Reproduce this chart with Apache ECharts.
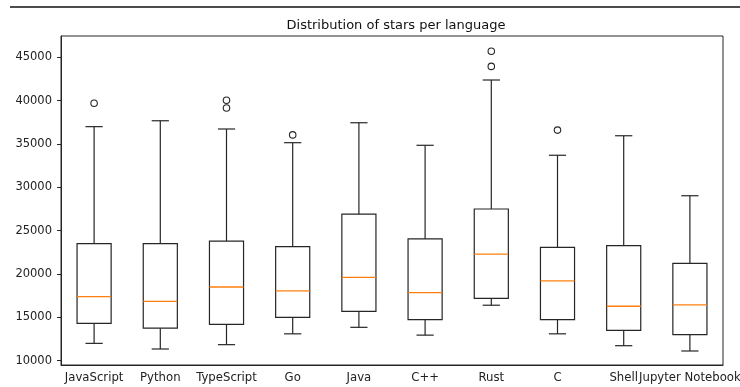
<!DOCTYPE html>
<html>
<head>
<meta charset="utf-8">
<script src="https://cdn.jsdelivr.net/npm/echarts@6/dist/echarts.min.js"></script>
<style>html,body{margin:0;padding:0;background:#fff;}#c{width:740px;height:387px;}</style>
</head>
<body>
<div id="c"></div>
<script>
var categories = ['JavaScript','Python','TypeScript','Go','Java','C++','Rust','C','Shell','Jupyter Notebook'];
var lowerWhisker = [12000, 11350, 11850, 13100, 13850, 12950, 16400, 13100, 11730, 11120];
var q1          = [14300, 13750, 14200, 15000, 15700, 14730, 17200, 14730, 13500, 13000];
var median      = [17400, 16850, 18500, 18050, 19620, 17850, 22300, 19200, 16280, 16450];
var q3          = [23500, 23500, 23800, 23150, 26900, 24050, 27500, 23080, 23270, 21230];
var upperWhisker= [37000, 37680, 36730, 35150, 37450, 34850, 42380, 33700, 35950, 29030];
var outliers = [[0, 39700], [2, 40050], [2, 39150], [3, 36050], [6, 45700], [6, 43950], [7, 36600]];
var yTicks = [10000, 15000, 20000, 25000, 30000, 35000, 40000, 45000];
var title = 'Distribution of stars per language';

var boxData = categories.map(function (c, i) {
  return [i, lowerWhisker[i], q1[i], median[i], q3[i], upperWhisker[i]];
});

var FONT = '"DejaVu Sans", sans-serif';
var INK = '#262626';

var chart = echarts.init(document.getElementById('c'), null, {renderer: 'canvas'});
chart.setOption({
  animation: false,
  backgroundColor: '#fff',
  title: {
    text: title, left: 391, top: 14, textAlign: 'center',
    textStyle: {fontFamily: FONT, fontSize: 13, fontWeight: 'normal', color: '#111'}
  },
  graphic: [{
    type: 'line', shape: {x1: 10, y1: 7, x2: 740, y2: 7},
    style: {stroke: '#111', lineWidth: 1.5}
  }],
  grid: {left: 61, right: 17, top: 36, bottom: 22, containLabel: false, outerBoundsMode: 'none',
         show: true, borderColor: INK, borderWidth: 1, backgroundColor: 'transparent'},
  xAxis: {
    type: 'category', data: categories, boundaryGap: true,
    axisLine: {lineStyle: {color: INK, width: 1}},
    axisTick: {alignWithLabel: true, length: 4, lineStyle: {color: INK}},
    axisLabel: {fontFamily: FONT, fontSize: 11.7, color: '#222', margin: 7, interval: 0, hideOverlap: false},
    splitLine: {show: false}
  },
  yAxis: {
    type: 'value', min: 9504, max: 47457,
    axisLine: {show: true, lineStyle: {color: INK, width: 1}},
    axisTick: {show: true, length: 4, lineStyle: {color: INK}, customValues: yTicks},
    axisLabel: {fontFamily: FONT, fontSize: 11.5, color: '#222', margin: 9, customValues: yTicks,
                formatter: function (v) { return String(v); }},
    splitLine: {show: false}
  },
  series: [{
    type: 'custom',
    data: boxData,
    encode: {x: 0, y: [1, 2, 3, 4, 5]},
    renderItem: function (params, api) {
      var idx = api.value(0);
      var band = api.size([1, 0])[0];
      var bw = band * 0.515;
      var cw = band * 0.26;
      var pLo = api.coord([idx, api.value(1)]);
      var pQ1 = api.coord([idx, api.value(2)]);
      var pMd = api.coord([idx, api.value(3)]);
      var pQ3 = api.coord([idx, api.value(4)]);
      var pHi = api.coord([idx, api.value(5)]);
      var x = pLo[0];
      var ls = {stroke: INK, lineWidth: 1.2, fill: null};
      return {
        type: 'group',
        children: [
          {type: 'line', shape: {x1: x, y1: pLo[1], x2: x, y2: pQ1[1]}, style: ls},
          {type: 'line', shape: {x1: x, y1: pQ3[1], x2: x, y2: pHi[1]}, style: ls},
          {type: 'line', shape: {x1: x - cw / 2, y1: pLo[1], x2: x + cw / 2, y2: pLo[1]}, style: ls},
          {type: 'line', shape: {x1: x - cw / 2, y1: pHi[1], x2: x + cw / 2, y2: pHi[1]}, style: ls},
          {type: 'rect', shape: {x: x - bw / 2, y: pQ3[1], width: bw, height: pQ1[1] - pQ3[1]}, style: {stroke: INK, lineWidth: 1.2, fill: 'transparent'}},
          {type: 'line', shape: {x1: x - bw / 2, y1: pMd[1], x2: x + bw / 2, y2: pMd[1]}, style: {stroke: '#ff7f0e', lineWidth: 1.3}}
        ]
      };
    }
  }, {
    type: 'scatter',
    data: outliers,
    symbol: 'circle',
    symbolSize: 6.5,
    itemStyle: {color: '#fff', borderColor: INK, borderWidth: 1.1, opacity: 1}
  }]
});
</script>
</body>
</html>
